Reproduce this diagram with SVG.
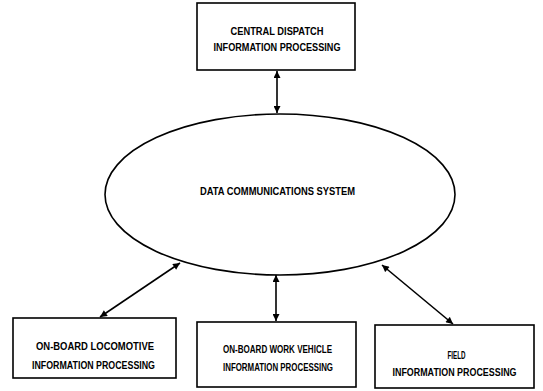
<svg xmlns="http://www.w3.org/2000/svg" width="543" height="391" viewBox="0 0 543 391">
<defs>
<marker id="ah" viewBox="0 0 10 10" refX="10" refY="5" markerWidth="8" markerHeight="7" markerUnits="userSpaceOnUse" orient="auto-start-reverse">
<path d="M0,0 L10,5 L0,10 Z" fill="#000"/>
</marker>
</defs>
<style>
.box{fill:#fff;stroke:#000;stroke-width:1.6}
.t{font-family:"Liberation Sans",Arial,sans-serif;font-size:10.5px;font-weight:bold;fill:#000;text-anchor:middle}
.c{stroke:#000;stroke-width:1.6;fill:none;marker-start:url(#ah);marker-end:url(#ah)}
</style>
<rect width="543" height="391" fill="#fff"/>
<g id="connectors">
<line class="c" x1="277" y1="71" x2="277" y2="113"/>
<line class="c" x1="100" y1="317" x2="180" y2="263"/>
<line class="c" x1="276" y1="275" x2="276" y2="321"/>
<line class="c" x1="382" y1="265" x2="453" y2="324"/>
</g>
<g id="central">
<rect class="box" x="197" y="3" width="158" height="67"/>
<text class="t" x="277" y="35" textLength="93" lengthAdjust="spacingAndGlyphs">CENTRAL DISPATCH</text>
<text class="t" x="277" y="51" textLength="127" lengthAdjust="spacingAndGlyphs">INFORMATION PROCESSING</text>
</g>
<g id="dcs">
<ellipse cx="280" cy="194.5" rx="175" ry="80.5" fill="#fff" stroke="#000" stroke-width="1.6"/>
<text class="t" x="277.5" y="195" textLength="155" lengthAdjust="spacingAndGlyphs">DATA COMMUNICATIONS SYSTEM</text>
</g>
<g id="loco">
<rect class="box" x="13" y="318" width="163" height="60"/>
<text class="t" x="95" y="350" textLength="118" lengthAdjust="spacingAndGlyphs">ON-BOARD LOCOMOTIVE</text>
<text class="t" x="93.5" y="369" textLength="123" lengthAdjust="spacingAndGlyphs">INFORMATION PROCESSING</text>
</g>
<g id="workvehicle">
<rect class="box" x="197" y="322" width="159" height="65"/>
<text class="t" x="277.5" y="353" textLength="109" lengthAdjust="spacingAndGlyphs">ON-BOARD WORK VEHICLE</text>
<text class="t" x="278" y="371" textLength="110" lengthAdjust="spacingAndGlyphs">INFORMATION PROCESSING</text>
</g>
<g id="field">
<rect class="box" x="375" y="325" width="159" height="63"/>
<text class="t" x="456.5" y="359" textLength="18" lengthAdjust="spacingAndGlyphs">FIELD</text>
<text class="t" x="454.5" y="376" textLength="124" lengthAdjust="spacingAndGlyphs">INFORMATION PROCESSING</text>
</g>
</svg>
